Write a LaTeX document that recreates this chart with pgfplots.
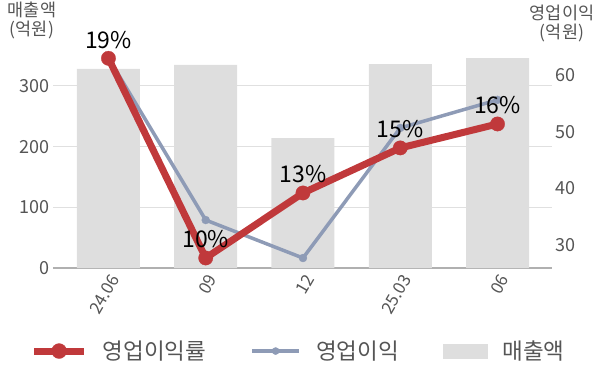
\documentclass[border=0pt]{standalone}
\usepackage{fontspec}
\setmainfont{Noto Sans CJK KR}
\usepackage{pgfplots}
\pgfplotsset{compat=1.18}
\definecolor{barc}{HTML}{DEDEDE}
\definecolor{redc}{HTML}{C0393B}
\definecolor{grayc}{HTML}{8E9BB6}
\definecolor{gridc}{HTML}{E0E0E0}
\definecolor{axisc}{HTML}{B0B0B0}
\definecolor{txtc}{HTML}{555555}
\pgfplotsset{
  redleg/.code={\draw[mark repeat=2, mark phase=2, redc, line width=7bp, mark=*, mark size=7.5bp, mark options={fill=redc,line width=0.3bp}] plot coordinates {(0bp,0bp) (25bp,0bp) (50bp,0bp)};},
  grayleg/.code={\draw[mark repeat=2, mark phase=2, grayc, line width=4bp, mark=*, mark size=3.6bp, mark options={fill=grayc,line width=0.3bp}] plot coordinates {(0bp,0bp) (23.5bp,0bp) (47bp,0bp)};},
  barleg/.code={\fill[barc] (0bp,-7bp) rectangle (44bp,7bp);},
}
\begin{document}
\begin{tikzpicture}
\useasboundingbox (-53bp,-115bp) rectangle (547bp,268bp);
\pgfplotsset{
  common/.style={scale only axis, width=499bp, height=218bp, xmin=-0.57, xmax=4.56,
    /pgf/number format/assume math mode=true, major tick length=0pt, tick style={draw=none}},
}
\begin{axis}[common, name=main, ymin=0, ymax=359.3, ytick={0,100,200,300},
  ymajorgrids, grid style={gridc, line width=1bp},
  axis x line*=bottom, axis y line*=left, y axis line style={draw=none},
  x axis line style={axisc, line width=1.2bp, -},
  xtick={0,1,2,3,4}, xticklabels={24.06,09,12,25.03,06},
  xticklabel style={rotate=60, anchor=north east, font=\fontsize{17bp}{17bp}\selectfont, text=txtc},
  yticklabel style={font=\fontsize{18bp}{18bp}\selectfont, text=txtc},
  legend columns=3, legend cell align=left,
  legend style={draw=none, fill=none, at={(0.49,-0.381)}, anchor=center,
    font=\fontsize{22.5bp}{23bp}\selectfont, text=txtc,
    /tikz/every odd column/.append style={column sep=15bp},
    /tikz/every even column/.append style={column sep=44bp},
    nodes={inner sep=0pt}},
]
\addlegendimage{legend image code/.code={\pgfplotsset{redleg}}}
\addlegendentry{영업이익률}
\addlegendimage{legend image code/.code={\pgfplotsset{grayleg}}}
\addlegendentry{영업이익}
\addlegendimage{legend image code/.code={\pgfplotsset{barleg}}}
\addlegendentry{매출액}
\addplot[ybar, bar width=63bp, fill=barc, draw=none, forget plot]
  coordinates {(0,328) (1,334.6) (2,214) (3,336) (4,346)};
\end{axis}
\begin{axis}[common, ymin=25.94, ymax=64.4, axis y line*=right, axis x line=none,
  y axis line style={draw=none}, xtick=\empty, ytick={30,40,50,60},
  yticklabel style={font=\fontsize{18bp}{18bp}\selectfont, text=txtc}]
\addplot[grayc, line width=3.5bp, mark=*, mark size=4bp, mark options={fill=grayc,line width=0.3bp}]
  coordinates {(0,63.0) (1,34.4) (2,27.7) (3,50.65) (4,55.6)};
\end{axis}
\begin{axis}[common, ymin=9.549, ymax=19.374, hide axis, clip=false]
\addplot[redc, line width=7bp, mark=*, mark size=7.2bp, mark options={fill=redc,line width=0.3bp},
  nodes near coords, point meta=explicit symbolic,
  nodes near coords style={anchor=base, yshift=10bp, inner sep=0pt,
    font=\fontsize{23bp}{23bp}\selectfont, text=black}]
  coordinates {(0,19.0)[19\%] (1,10.0)[10\%] (2,12.93)[13\%] (3,14.96)[15\%] (4,16.04)[16\%]};
\end{axis}
\node[align=center, font=\fontsize{17.5bp}{19bp}\selectfont, text=txtc] at (-21bp,248bp) {매출액\\(억원)};
\node[align=center, font=\fontsize{17.5bp}{19bp}\selectfont, text=txtc] at (509bp,245bp) {영업이익\\(억원)};
\end{tikzpicture}
\end{document}
